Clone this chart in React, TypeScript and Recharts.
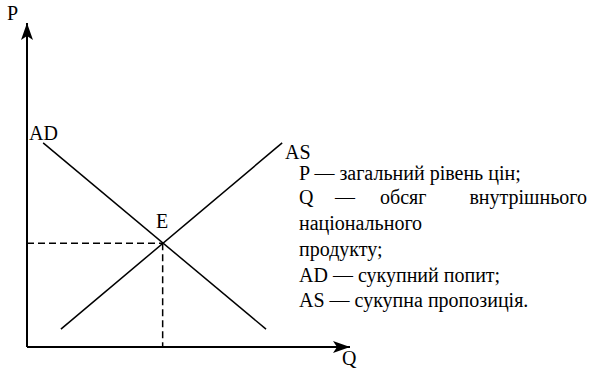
import { LineChart, Line, XAxis, YAxis, ReferenceDot } from 'recharts';

// schematic AD-AS model, abstract units on both axes (0..10)
const adCurve = [
  { q: 0.5, p: 6.3 },
  { q: 7.4, p: 0.55 },
];
const asCurve = [
  { q: 1.05, p: 0.55 },
  { q: 7.9, p: 6.3 },
];
const equilibrium = { q: 4.2, p: 3.2 };
const priceGuide = [
  { q: 0, p: equilibrium.p },
  { q: equilibrium.q, p: equilibrium.p },
];
const quantityGuide = [
  { q: equilibrium.q, p: equilibrium.p },
  { q: equilibrium.q, p: 0 },
];
const pAxis = [
  { q: 0, p: 0 },
  { q: 0, p: 10 },
];
const qAxis = [
  { q: 0, p: 0 },
  { q: 10, p: 0 },
];

// legend text, line by line
const legendLines = [
  'P — загальний рівень цін;',
  null, // justified line, drawn word by word
  'національного',
  'продукту;',
  'AD — сукупний попит;',
  'AS — сукупна пропозиція.',
];
const legendBaselines = [180, 204, 230, 256, 282, 307];
const justifiedWords = ['Q', '—', 'обсяг', 'внутрішнього'];
const justifiedX = [299, 335, 380, 457];

type ShapeProps = { cx?: number; cy?: number };

const upArrow = ({ cx = 0, cy = 0 }: ShapeProps) => (
  <path d={`M${cx},${cy} L${cx + 6},${cy + 17} L${cx},${cy + 13} L${cx - 6},${cy + 17} Z`} fill="#000" />
);

const rightArrow = ({ cx = 0, cy = 0 }: ShapeProps) => (
  <path d={`M${cx},${cy} L${cx - 17},${cy - 6} L${cx - 13},${cy} L${cx - 17},${cy + 6} Z`} fill="#000" />
);

const T = ({ x, y, children, anchor }: { x: number; y: number; children: string; anchor?: 'end' }) => (
  <text x={x} y={y} fontFamily="Liberation Serif" fontSize={20} fill="#000" textAnchor={anchor}>
    {children}
  </text>
);

export default function App() {
  return (
    <div style={{ position: 'absolute', left: 0, top: 0, width: 591, height: 369, background: '#fff' }}>
      <LineChart width={591} height={369} margin={{ top: 23, right: 241, bottom: 22, left: 27 }}>
        <XAxis dataKey="q" type="number" domain={[0, 10]} hide />
        <YAxis dataKey="p" type="number" domain={[0, 10]} hide />
        <Line data={pAxis} dataKey="p" stroke="#000" strokeWidth={2} dot={false} activeDot={false} isAnimationActive={false} />
        <Line data={qAxis} dataKey="p" stroke="#000" strokeWidth={2} dot={false} activeDot={false} isAnimationActive={false} />
        <Line data={priceGuide} dataKey="p" stroke="#000" strokeWidth={1.5} strokeDasharray="7 4" dot={false} activeDot={false} isAnimationActive={false} />
        <Line data={quantityGuide} dataKey="p" stroke="#000" strokeWidth={1.5} strokeDasharray="7 4" dot={false} activeDot={false} isAnimationActive={false} />
        <Line data={adCurve} dataKey="p" stroke="#000" strokeWidth={1.5} dot={false} activeDot={false} isAnimationActive={false} />
        <Line data={asCurve} dataKey="p" stroke="#000" strokeWidth={1.5} dot={false} activeDot={false} isAnimationActive={false} />
        <ReferenceDot x={0} y={10} ifOverflow="visible" shape={upArrow} />
        <ReferenceDot x={10} y={0} ifOverflow="visible" shape={rightArrow} />
      </LineChart>
      <svg width={591} height={369} style={{ position: 'absolute', left: 0, top: 0, pointerEvents: 'none' }}>
        <T x={7} y={20}>P</T>
        <T x={342} y={365}>Q</T>
        <T x={29} y={140}>AD</T>
        <T x={285} y={159}>AS</T>
        <T x={156} y={228}>E</T>
        {legendLines.map((line, i) =>
          line ? (
            <T key={i} x={299} y={legendBaselines[i]}>{line}</T>
          ) : (
            <g key={i}>
              {justifiedWords.map((w, j) =>
                j === justifiedWords.length - 1 ? (
                  <T key={w} x={587} y={legendBaselines[i]} anchor="end">{w}</T>
                ) : (
                  <T key={w} x={justifiedX[j]} y={legendBaselines[i]}>{w}</T>
                ),
              )}
            </g>
          ),
        )}
      </svg>
    </div>
  );
}
